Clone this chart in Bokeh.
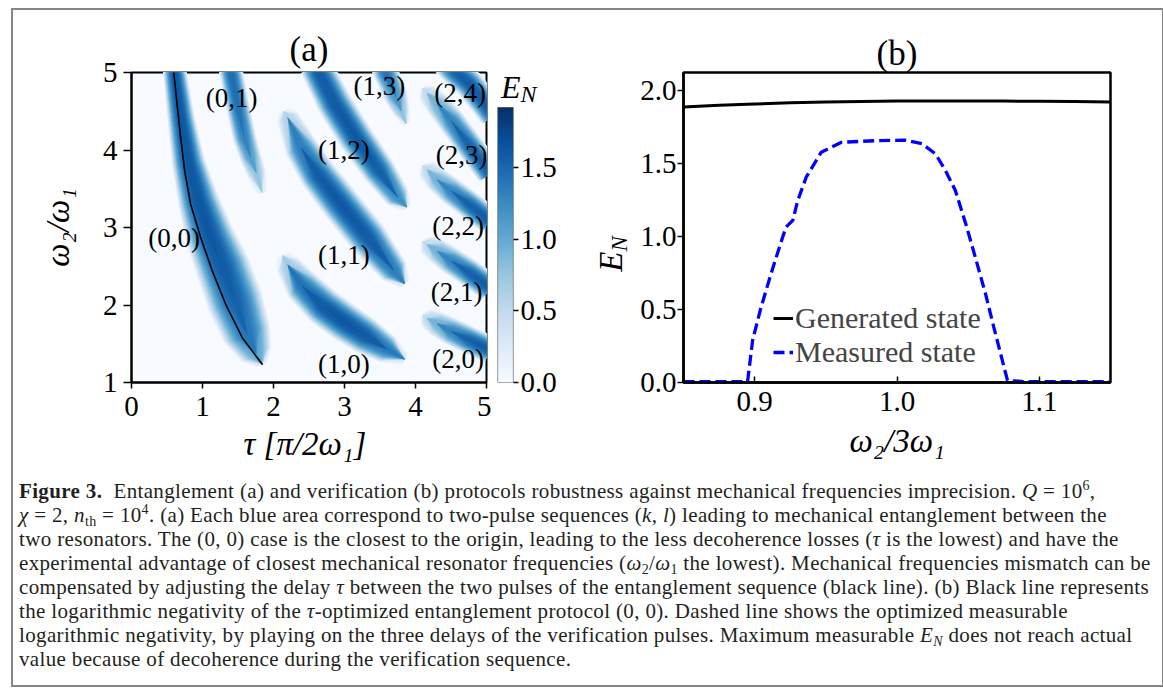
import numpy as np
from bokeh.plotting import figure
from bokeh.models import (Range1d, FixedTicker, PrintfTickFormatter, Legend,
                          LegendItem, LinearColorMapper, Div)
from bokeh.layouts import row, column
from bokeh.palettes import Blues9
from bokeh.core.properties import value
from bokeh.embed import file_html
from bokeh.resources import INLINE

FONT = "Liberation Serif"

# ------------------------------------------------------------------ data (a)
tau_ticks = [0, 1, 2, 3, 4, 5]
omega_ticks = [1, 2, 3, 4, 5]
cb_ticks = [0.0, 0.5, 1.0, 1.5]
EN_MAX = 1.92

# blue bands (k,l): centre line (tau, omega), half width (px), peak E_N
b00_tau = [0.57, 0.61, 0.70, 0.80, 0.94, 1.10, 1.28, 1.46, 1.63, 1.76, 1.84]
b00_om = [5.30, 5.00, 4.40, 3.85, 3.35, 2.90, 2.50, 2.05, 1.62, 1.37, 1.24]
b00_hw = [12, 12, 14, 17, 21, 25, 28, 29, 25, 17, 7]
b00_pk = [1.64, 1.64, 1.65, 1.66, 1.66, 1.65, 1.62, 1.56, 1.42, 1.05, 0.33]

b01_tau = [1.36, 1.41, 1.50, 1.59, 1.68, 1.76, 1.84]
b01_om = [5.20, 4.97, 4.55, 4.16, 3.90, 3.70, 3.45]
b01_hw = [12, 12, 12, 12, 11, 10, 6]
b01_pk = [1.50, 1.50, 1.46, 1.34, 1.12, 0.78, 0.24]

b12_tau = [2.60, 2.65, 2.86, 3.16, 3.49, 3.75, 3.88]
b12_om = [5.08, 4.98, 4.60, 4.16, 3.73, 3.39, 3.26]
b12_hw = [17, 17, 18, 18, 17, 13, 6]
b12_pk = [1.60, 1.62, 1.63, 1.64, 1.58, 1.25, 0.29]

b13_tau = [3.55, 3.59, 3.73, 3.80, 3.87]
b13_om = [5.08, 4.98, 4.68, 4.50, 4.34]
b13_hw = [13, 13, 12, 9, 5]
b13_pk = [1.45, 1.45, 1.18, 0.80, 0.24]

b11_tau = [2.14, 2.20, 2.39, 2.62, 2.95, 3.33, 3.70, 3.85]
b11_om = [4.50, 4.42, 4.03, 3.69, 3.30, 2.87, 2.44, 2.27]
b11_hw = [8, 12, 17, 19, 20, 20, 15, 7]
b11_pk = [0.19, 0.62, 1.38, 1.60, 1.64, 1.62, 1.38, 0.29]

b10_tau = [2.13, 2.20, 2.40, 2.70, 3.00, 3.30, 3.60, 3.85]
b10_om = [2.64, 2.52, 2.25, 1.98, 1.78, 1.60, 1.43, 1.30]
b10_hw = [8, 13, 18, 20, 20, 19, 15, 7]
b10_pk = [0.19, 0.72, 1.44, 1.63, 1.66, 1.63, 1.40, 0.29]

b24_tau = [4.40, 4.55, 4.75, 4.95, 5.10]
b24_om = [5.15, 5.02, 4.86, 4.63, 4.45]
b24_hw = [14, 15, 15, 15, 15]
b24_pk = [1.45, 1.58, 1.62, 1.62, 1.62]

right_tau = [4.10, 4.16, 4.30, 4.50, 4.75, 5.05]
right_hw = [6, 11, 13, 14, 14, 14]
right_pk = [0.14, 0.52, 0.95, 1.32, 1.56, 1.62]
b23_om = [4.80, 4.74, 4.60, 4.38, 4.07, 3.70]
b22_om = [3.80, 3.75, 3.62, 3.47, 3.30, 3.08]
b21_om = [2.82, 2.78, 2.70, 2.57, 2.42, 2.22]
b20_om = [1.87, 1.83, 1.76, 1.66, 1.55, 1.42]

# tau-optimised (0,0) sequence (black line)
opt_tau = [0.595, 0.692, 0.749, 0.833, 0.975, 1.139, 1.328, 1.563, 1.846]
opt_om = [5.00, 4.163, 3.731, 3.300, 2.868, 2.437, 2.006, 1.574, 1.229]

lab_text = ["(0,1)", "(1,3)", "(2,4)", "(1,2)", "(2,3)", "(0,0)",
            "(2,2)", "(1,1)", "(2,1)", "(1,0)", "(2,0)"]
lab_tau = [1.41, 3.49, 4.63, 2.99, 4.65, 0.60, 4.60, 2.99, 4.58, 2.99, 4.60]
lab_om = [4.67, 4.82, 4.74, 4.00, 3.94, 2.87, 3.02, 2.64, 2.17, 1.24, 1.30]

# ------------------------------------------------------------------ data (b)
x_gen = [0.85, 0.875, 0.90, 0.925, 0.95, 0.975, 1.00, 1.025, 1.05, 1.075, 1.10, 1.125, 1.15]
y_gen = [1.886, 1.898, 1.908, 1.915, 1.921, 1.925, 1.927, 1.928, 1.928, 1.927, 1.926, 1.924, 1.921]

x_meas = [0.85, 0.87, 0.895, 0.8986, 0.9045, 0.9115, 0.9174, 0.922, 0.9268, 0.9303,
          0.9362, 0.9468, 0.9516, 0.961, 0.9845, 1.0055, 1.0175, 1.027, 1.034, 1.041,
          1.049, 1.055, 1.0622, 1.068, 1.074, 1.0776, 1.09, 1.12, 1.15]
y_meas = [0.006, 0.006, 0.006, 0.29, 0.516, 0.744, 0.927, 1.064, 1.11, 1.247,
          1.406, 1.577, 1.60, 1.645, 1.656, 1.66, 1.635, 1.566, 1.452, 1.315,
          1.064, 0.858, 0.607, 0.379, 0.151, 0.014, 0.006, 0.006, 0.006]
b_xticks = [0.9, 1.0, 1.1]
b_yticks = [0.0, 0.5, 1.0, 1.5, 2.0]

# ------------------------------------------------------------------ colour map (matplotlib "Blues")
def _rgb(h):
    return np.array([int(h[i:i + 2], 16) for i in (1, 3, 5)], dtype=float)

base = [_rgb(c) for c in Blues9]
if base[0].sum() < base[-1].sum():
    base = base[::-1]          # light -> dark
base = np.array(base)
pos = np.linspace(0, 1, len(base))
PAL = []
for f in np.linspace(0, 1, 256):
    rgb = [np.interp(f, pos, base[:, k]) for k in range(3)]
    PAL.append("#%02x%02x%02x" % tuple(int(round(c)) for c in rgb))


def cmap(v):
    return PAL[int(min(255, max(0, round(v / EN_MAX * 255))))]


mapper = LinearColorMapper(palette=PAL, low=0, high=EN_MAX)


def style_axes(p, size="29px"):
    for ax in (p.xaxis + p.yaxis):
        ax.major_label_text_font = FONT
        ax.major_label_text_font_size = size
        ax.major_label_text_color = "black"
        ax.axis_label_text_font = FONT
        ax.axis_label_text_font_size = "33px"
        ax.axis_label_text_color = "black"
        ax.minor_tick_line_color = None
        ax.major_tick_line_color = "black"
        ax.major_tick_line_width = 1.5
    p.xgrid.visible = False
    p.ygrid.visible = False


def style_title(p, offset, standoff):
    p.title.align = "center"
    p.title.text_font = FONT
    p.title.text_font_size = "35px"
    p.title.text_font_style = "normal"
    p.title.text_color = "black"
    p.title.offset = offset
    p.title.standoff = standoff


TOP, BOTTOM, FH = 72, 96, 310

# ------------------------------------------------------------------ panel (a)
pa = figure(title="(a)", frame_width=355, frame_height=FH, min_border_left=131,
            min_border_right=5, min_border_top=TOP, min_border_bottom=BOTTOM,
            x_range=Range1d(0, 5), y_range=Range1d(1, 5),
            toolbar_location=None, output_backend="svg")
style_title(pa, 12, 7)
pa.background_fill_color = PAL[0]
pa.outline_line_color = "black"
pa.outline_line_width = 2
style_axes(pa)
pa.xaxis.ticker = FixedTicker(ticks=tau_ticks)
pa.yaxis.ticker = FixedTicker(ticks=omega_ticks)
pa.xaxis.axis_line_width = 2
pa.yaxis.axis_line_width = 2
pa.xaxis.major_tick_out = 6
pa.xaxis.major_tick_in = 0
pa.yaxis.major_tick_out = 8
pa.yaxis.major_tick_in = 0
pa.xaxis.major_label_standoff = 8
pa.yaxis.major_label_standoff = 6
pa.xaxis.axis_label = "τ  [π/2ω₁]"
pa.xaxis.axis_label_standoff = 7
pa.yaxis.axis_label = "ω₂/ω₁"
pa.yaxis.axis_label_text_font_style = "italic"
pa.yaxis.axis_label_standoff = 24

bands = [
    (b00_tau, b00_om, b00_hw, b00_pk),
    (b01_tau, b01_om, b01_hw, b01_pk),
    (b12_tau, b12_om, b12_hw, b12_pk),
    (b13_tau, b13_om, b13_hw, b13_pk),
    (b11_tau, b11_om, b11_hw, b11_pk),
    (b10_tau, b10_om, b10_hw, b10_pk),
    (b24_tau, b24_om, b24_hw, b24_pk),
    (right_tau, b23_om, right_hw, right_pk),
    (right_tau, b22_om, right_hw, right_pk),
    (right_tau, b21_om, right_hw, right_pk),
    (right_tau, b20_om, right_hw, right_pk),
]
SX = 355 / 5.0   # screen px per tau unit
SY = FH / 4.0    # screen px per omega unit


def band_outline(t, o, hw, pk, v):
    P = np.column_stack([np.asarray(t) * SX, np.asarray(o) * SY])
    n = len(P)
    T = np.zeros_like(P)
    for i in range(n):
        d = P[min(i + 1, n - 1)] - P[max(i - 1, 0)]
        T[i] = d / np.hypot(d[0], d[1])
    N = np.column_stack([-T[:, 1], T[:, 0]])
    h = np.asarray(hw) * np.clip(1 - v / np.asarray(pk), 0, None) ** 0.45
    if h.max() <= 0:
        return None
    L = P + N * h[:, None]
    R = P - N * h[:, None]
    poly = np.vstack([L, R[::-1]])
    return list(poly[:, 0] / SX), list(poly[:, 1] / SY)


levels = np.arange(0.03, EN_MAX, 0.04)
pxs, pys, pcs = [], [], []
for v in levels:
    for band in bands:
        res = band_outline(*band, v)
        if res is not None:
            pxs.append(res[0])
            pys.append(res[1])
            pcs.append(cmap(v))
pa.patches(pxs, pys, fill_color=pcs, line_color=None)

pa.line(opt_tau, opt_om, line_color="black", line_width=1.6)
pa.text(x=lab_tau, y=lab_om, text=lab_text, text_font=value(FONT),
        text_font_size="27px", text_align="center", text_baseline="middle",
        text_color="black")

# ------------------------------------------------------------------ colour bar
CB_TOP = EN_MAX * FH / 275.0
pc = figure(frame_width=16, frame_height=FH, min_border_left=6, min_border_right=62,
            min_border_top=TOP, min_border_bottom=BOTTOM,
            x_range=Range1d(0, 1), y_range=Range1d(0, CB_TOP),
            x_axis_location=None, y_axis_location="right",
            toolbar_location=None, output_backend="svg")
grad = np.linspace(0, EN_MAX, 256).reshape(256, 1)
pc.image(image=[grad], x=0, y=0, dw=1, dh=EN_MAX, color_mapper=mapper)
pc.quad(left=0, right=1, bottom=0, top=EN_MAX, fill_color=None,
        line_color="#555555", line_width=1.2)
pc.outline_line_color = None
style_axes(pc)
pc.yaxis.ticker = FixedTicker(ticks=cb_ticks)
pc.yaxis.formatter = PrintfTickFormatter(format="%.1f")
pc.yaxis.axis_line_color = None
pc.yaxis.major_tick_out = 5
pc.yaxis.major_tick_in = 0
pc.yaxis.major_label_standoff = 2

# ------------------------------------------------------------------ panel (b)
pb = figure(title="(b)", frame_width=427, frame_height=FH, min_border_left=108,
            min_border_right=48, min_border_top=TOP, min_border_bottom=BOTTOM,
            x_range=Range1d(0.85, 1.15), y_range=Range1d(0, 2.123),
            toolbar_location=None, output_backend="svg")
style_title(pb, -2, 0)
pb.outline_line_color = "black"
pb.outline_line_width = 2.5
style_axes(pb)
pb.xaxis.ticker = FixedTicker(ticks=b_xticks)
pb.yaxis.ticker = FixedTicker(ticks=b_yticks)
pb.xaxis.formatter = PrintfTickFormatter(format="%.1f")
pb.yaxis.formatter = PrintfTickFormatter(format="%.1f")
pb.xaxis.axis_line_width = 2.5
pb.yaxis.axis_line_width = 2.5
pb.xaxis.major_tick_in = 6
pb.xaxis.major_tick_out = 0
pb.yaxis.major_tick_out = 6
pb.yaxis.major_tick_in = 0
pb.xaxis.major_label_standoff = 9
pb.yaxis.major_label_standoff = 1
pb.xaxis.axis_label = "ω₂/3ω₁"
pb.xaxis.axis_label_text_font_style = "italic"
pb.xaxis.axis_label_standoff = 9

r_gen = pb.line(x_gen, y_gen, line_color="black", line_width=3)
r_meas = pb.line(x_meas, y_meas, line_color="blue", line_width=3.3, line_dash="11 5")
leg = Legend(items=[LegendItem(label="Generated state", renderers=[r_gen]),
                    LegendItem(label="Measured state", renderers=[r_meas])],
             location=(90, 13), margin=0, padding=0, spacing=-4,
             glyph_width=20, glyph_height=30, label_height=30, label_standoff=2,
             label_text_font=FONT, label_text_font_size="30px",
             border_line_alpha=0, background_fill_alpha=0)
pb.add_layout(leg)

# ------------------------------------------------------------------ texts with sub-scripts
SUBST = "font-size:%s;font-style:italic;position:relative;top:%s;"


def abs_div(html, left, top, w, h):
    return Div(text=html, width=w, height=h,
               styles={"position": "absolute", "left": "%dpx" % left, "top": "%dpx" % top})


en_cb = abs_div('<div style="font-family:\'Liberation Serif\';line-height:32px;'
                'white-space:nowrap;color:black;">'
                '<span style="font-size:32px;font-style:italic;">E</span>'
                '<span style="' + SUBST % ("24px", "4px") + '">N</span></div>',
                496, 66, 50, 40)
en_b = abs_div('<div style="font-family:\'Liberation Serif\';width:60px;height:44px;'
               'margin-top:8px;line-height:44px;text-align:center;white-space:nowrap;'
               'color:black;transform:rotate(-90deg);">'
               '<span style="font-size:33px;font-style:italic;">E</span>'
               '<span style="' + SUBST % ("23px", "5px") + '">N</span></div>',
               576, 219, 60, 60)
frame_box = abs_div('<div style="width:1153px;height:679px;box-sizing:border-box;'
                    'border:2px solid #858585;"></div>', 6, 3, 1153, 679)

# ------------------------------------------------------------------ caption
SUP = '<span style="font-size:14px;position:relative;top:-8px;line-height:0;">%s</span>'
SUB = '<span style="font-size:14px;position:relative;top:4px;line-height:0;">%s</span>'
caption = (
    "<b>Figure 3.</b>&nbsp; Entanglement (a) and verification (b) protocols robustness against "
    "mechanical frequencies imprecision. <i>Q</i> = 10" + SUP % "6" + ",<br>"
    "<i>χ</i> = 2, <i>n</i>" + SUB % "th" + " = 10" + SUP % "4" + ". (a) Each blue area "
    "correspond to two-pulse sequences (<i>k</i>, <i>l</i>) leading to mechanical entanglement "
    "between the<br>"
    "two resonators. The (0, 0) case is the closest to the origin, leading to the less "
    "decoherence losses (<i>τ</i> is the lowest) and have the<br>"
    "experimental advantage of closest mechanical resonator frequencies "
    "(<i>ω</i>" + SUB % "2" + "/<i>ω</i>" + SUB % "1" + " the lowest). Mechanical frequencies "
    "mismatch can be<br>"
    "compensated by adjusting the delay <i>τ</i> between the two pulses of the entanglement "
    "sequence (black line). (b) Black line represents<br>"
    "the logarithmic negativity of the <i>τ</i>-optimized entanglement protocol (0, 0). "
    "Dashed line shows the optimized measurable<br>"
    "logarithmic negativity, by playing on the three delays of the verification pulses. "
    "Maximum measurable <i>E</i>" + SUB % "<i>N</i>" + " does not reach actual<br>"
    "value because of decoherence during the verification sequence."
)
cap = Div(text='<div style="font-family:\'Liberation Serif\'; font-size:21px; '
               'line-height:24px; padding-left:14px; margin-top:-4px; white-space:nowrap; '
               'letter-spacing:0.35px; color:#231f20;">' + caption + '</div>',
          width=1150, height=204)

layout = column(row(pa, pc, pb), cap, en_cb, en_b, frame_box)

open("out.html", "w").write(file_html(layout, INLINE))
